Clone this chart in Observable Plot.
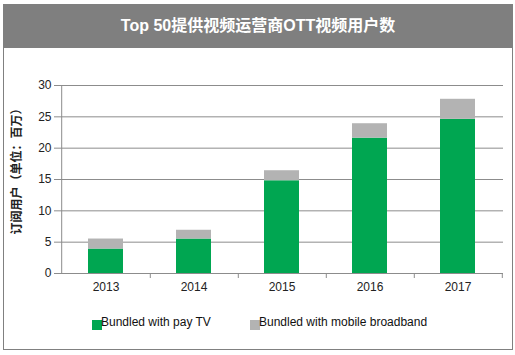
<!DOCTYPE html>
<html><head><meta charset="utf-8">
<script src="https://cdn.jsdelivr.net/npm/d3@7"></script>
<script src="https://cdn.jsdelivr.net/npm/@observablehq/plot@0.6"></script>
<style>
body{margin:0;background:#fff;font-family:"Liberation Sans",Arial,"Noto Sans CJK SC",sans-serif;}
#wrap{position:relative;width:515px;height:355px;overflow:hidden;background:#fff;}
#frame{position:absolute;left:3px;top:4px;width:508px;height:344px;border:1px solid #808080;box-sizing:content-box;}
#title{position:absolute;left:3px;top:4px;width:510px;height:44px;background:#7f7f7f;color:#fff;font-weight:bold;font-size:16px;text-align:center;line-height:44px;font-family:"Liberation Sans",Arial,"Noto Sans CJK SC",sans-serif;}
#chart{position:absolute;left:0;top:50px;}
.leg{position:absolute;top:315px;font-size:12px;color:#111;white-space:nowrap;}
.sw{position:absolute;top:320px;width:10px;height:10px;}
</style>
</head><body>
<div id="wrap">
  <div id="frame"></div>
  <div id="title"></div>
  <div id="chart"></div>
  <div id="legend"></div>
</div>
<script>
const title = "Top 50提供视频运营商OTT视频用户数";
const years = ["2013", "2014", "2015", "2016", "2017"];
const payTV = [3.9, 5.5, 14.8, 21.6, 24.6];
const mobileBB = [1.6, 1.4, 1.6, 2.3, 3.2];
const seriesNames = ["Bundled with pay TV", "Bundled with mobile broadband"];
const seriesColors = ["#00a651", "#b3b3b3"];
const yTicks = [0, 5, 10, 15, 20, 25, 30];
const yLabel = "订阅用户（单位：百万）";

document.getElementById("title").textContent = title;

const rows = years.flatMap((yr, i) => [
  {year: yr, series: seriesNames[0], value: payTV[i]},
  {year: yr, series: seriesNames[1], value: mobileBB[i]}
]);

const W = 515, ML = 60, MR = 12;
const pIn = 0.6, pOut = 0.3;
const step = (W - ML - MR) / (years.length - pIn + 2 * pOut);
const lineColor = "#8c8c8c";
const textColor = "#222";

const chart = Plot.plot({
  width: W, height: 250,
  marginLeft: ML, marginRight: MR, marginTop: 35, marginBottom: 27,
  style: {fontFamily: '"Liberation Sans", Arial, "Noto Sans CJK SC", sans-serif', fontSize: "12px", color: textColor, background: "transparent", overflow: "visible"},
  x: {domain: years, paddingInner: pIn, paddingOuter: pOut, axis: null},
  y: {domain: [0, 30], axis: null},
  color: {domain: seriesNames, range: seriesColors},
  marks: [
    Plot.gridY(yTicks, {stroke: lineColor, strokeOpacity: 1}),
    Plot.axisY(yTicks, {tickSize: 6, tickPadding: 3, stroke: lineColor, fill: textColor, label: null}),
    Plot.barY(rows, {x: "year", y: "value", fill: "series"}),
    Plot.ruleY([0], {stroke: lineColor}),
    Plot.ruleX([years[0]], {dx: -step / 2, y1: 0, y2: 30, stroke: lineColor}),
    Plot.axisX(years, {tickSize: 0, tickPadding: 9, label: null, fill: textColor}),
    Plot.axisX(years, {tickSize: 5, text: null, dx: step / 2, stroke: lineColor, label: null}),
    Plot.text([yLabel], {frameAnchor: "left", textAnchor: "middle", dx: -43, dy: -11, rotate: -90, fontWeight: "bold", fontSize: 12, fill: textColor,
      fontFamily: '"Noto Sans CJK SC", sans-serif'})
  ]
});
document.getElementById("chart").appendChild(chart);

const legend = document.getElementById("legend");
const legPos = [92, 250];
seriesNames.forEach((name, i) => {
  const sw = document.createElement("div");
  sw.className = "sw";
  sw.style.left = legPos[i] + "px";
  sw.style.background = seriesColors[i];
  legend.appendChild(sw);
  const t = document.createElement("div");
  t.className = "leg";
  t.style.left = (legPos[i] + 9) + "px";
  t.textContent = name;
  legend.appendChild(t);
});
</script>
</body></html>
